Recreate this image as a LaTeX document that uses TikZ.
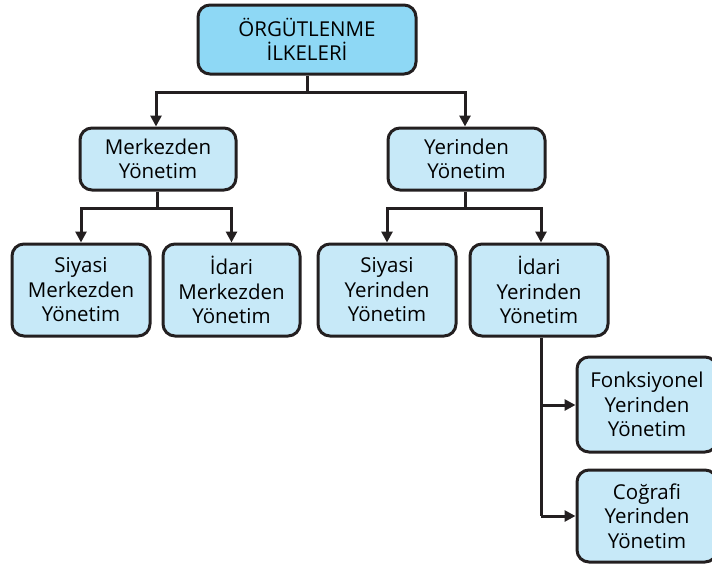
\documentclass[tikz,border=0pt]{standalone}
\usepackage{fontspec}
\setmainfont{Open Sans}
\usetikzlibrary{arrows.meta,positioning}
\definecolor{topfill}{HTML}{8ED8F5}
\definecolor{boxfill}{HTML}{C7E9F8}
\definecolor{ink}{HTML}{231F20}
\tikzset{
  box/.style={draw=ink, line width=3pt, rounded corners=12pt, fill=boxfill, align=center,
    font=\fontsize{20.5}{24.5}\selectfont, inner sep=0pt},
  conn/.style={draw=ink, line width=3pt},
  arr/.style={conn, -{Triangle[length=11pt,width=11pt]}},
}
\begin{document}
\begin{tikzpicture}[x=1pt,y=-1pt]
\useasboundingbox (0,0) rectangle (712,568);
\node[box, fill=topfill, minimum width=218pt, minimum height=69pt] (top) at (307,39.5) {ÖRGÜTLENME\\İLKELERİ};
\node[box, minimum width=156pt, minimum height=62pt] (mer) at (158,159) {Merkezden\\Yönetim};
\node[box, minimum width=157pt, minimum height=62pt] (yer) at (466.5,159) {Yerinden\\Yönetim};
\node[box, minimum width=138pt, minimum height=92pt] (sm) at (81,290) {Siyasi\\Merkezden\\Yönetim};
\node[box, minimum width=137pt, minimum height=92pt] (im) at (231.5,290) {İdari\\Merkezden\\Yönetim};
\node[box, minimum width=138pt, minimum height=92pt] (sy) at (387,290) {Siyasi\\Yerinden\\Yönetim};
\node[box, minimum width=138pt, minimum height=92pt] (iy) at (539,290) {İdari\\Yerinden\\Yönetim};
\node[box, minimum width=140pt, minimum height=95pt] (fy) at (647,404.5) {Fonksiyonel\\Yerinden\\Yönetim};
\node[box, minimum width=140pt, minimum height=92pt] (cy) at (647,516) {Coğrafi\\Yerinden\\Yönetim};
\coordinate (c1) at (156,0);
\coordinate (c2) at (465,0);
\coordinate (c3) at (541,0);
% level 1
\coordinate (j1) at (307,92);
\draw[conn] (top.south) -- (j1);
\draw[arr] (j1) -| (c1 |- mer.north);
\draw[arr] (j1) -| (c2 |- yer.north);
% level 2 left
\coordinate (j2) at (157,208);
\draw[conn] (mer.south -| j2) -- (j2);
\draw[arr] (j2) -| (sm.north);
\draw[arr] (j2) -| (im.north);
% level 2 right
\coordinate (j3) at (465,208);
\draw[conn] (yer.south -| j3) -- (j3);
\draw[arr] (j3) -| (sy.north);
\draw[arr] (j3) -| (c3 |- iy.north);
% level 3
\draw[conn] (c3 |- iy.south) -- (541,516);
\draw[arr] (541,405) -- (fy.west |- 0,405);
\draw[arr] (541,516) -- (cy.west);
\end{tikzpicture}
\end{document}
